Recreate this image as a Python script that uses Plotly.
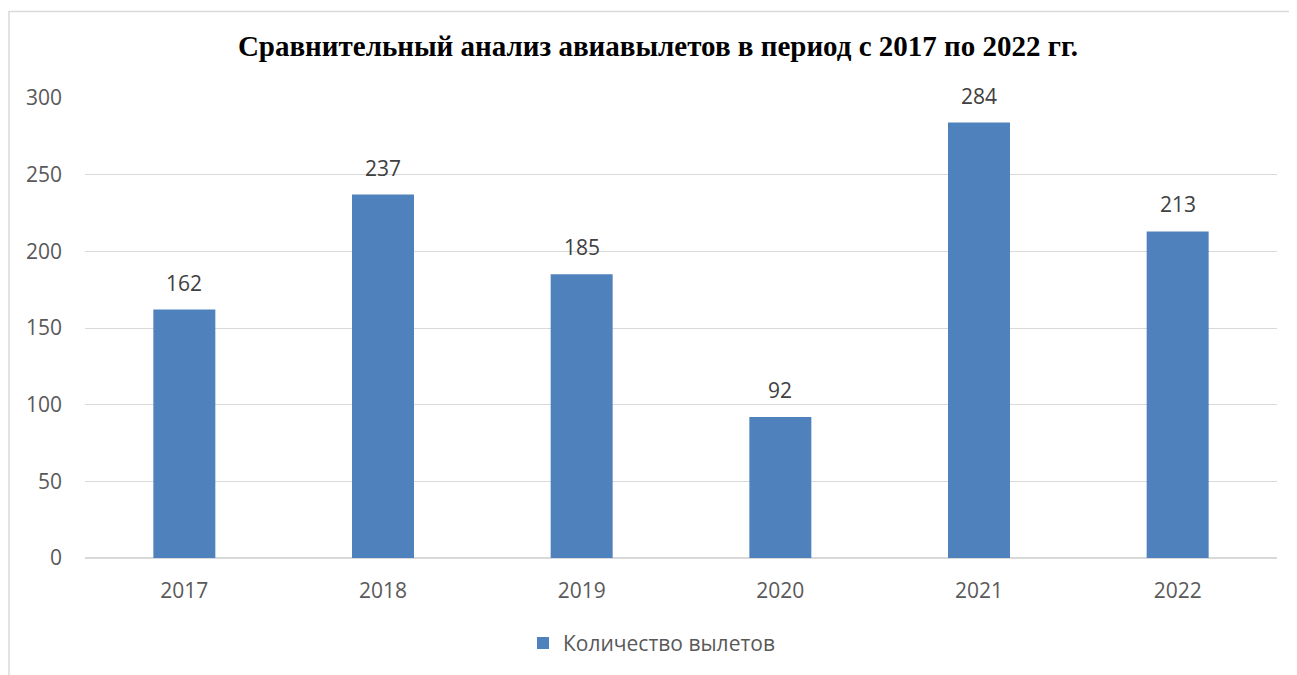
import plotly.graph_objects as go

years = ["2017", "2018", "2019", "2020", "2021", "2022"]
flights = [162, 237, 185, 92, 284, 213]
series_name = "Количество вылетов"
title = "Сравнительный анализ авиавылетов в период с 2017 по 2022 гг."
y_ticks = [0, 50, 100, 150, 200, 250, 300]

BAR = "#4F81BD"
GRID = "#D9D9D9"
TXT = "#595959"
FONT = "Open Sans, Lato, sans-serif"
FS = 21

fig = go.Figure()
fig.add_trace(go.Bar(
    x=years, y=flights, name=series_name,
    marker=dict(color=BAR, line=dict(width=0)),
    showlegend=True,
))

# category index positions for value labels
for i, v in enumerate(flights):
    fig.add_annotation(x=i, y=v, text=str(v), showarrow=False,
                       yanchor="middle", yshift=27,
                       font=dict(family=FONT, size=FS, color="#404040"))

# page is offset by 8px body margin
OFF = 8
W, H = 1297 - OFF, 675 - OFF
l, r, t, b = 85 - OFF, 20, 97.5 - OFF, 115.5
pw, ph = W - l - r, H - t - b

fig.add_shape(type="rect", xref="paper", yref="paper",
              x0=(9 - OFF - l) / pw, x1=(W + 5 - l) / pw,
              y0=(H - b - (H + 5)) / ph, y1=(H - b - (10.5 - OFF)) / ph,
              line=dict(color=GRID, width=1.5), fillcolor="rgba(0,0,0,0)", layer="below")

fig.update_layout(
    width=W, height=H,
    margin=dict(l=l, r=r, t=t, b=b, pad=0),
    paper_bgcolor="white", plot_bgcolor="white",
    bargap=0.688,
    title=dict(text="<b>" + title + "</b>", x=(658 - OFF) / W, xanchor="center",
               y=1 - (46 - OFF) / H, yanchor="middle",
               font=dict(family="Liberation Serif, Times New Roman, serif", size=29, color="black")),
    xaxis=dict(type="category", range=[-0.5, len(years) - 0.5], showgrid=False, showline=False, ticks="",
               tickfont=dict(family=FONT, size=FS, color=TXT), ticklabelstandoff=18),
    yaxis=dict(range=[0, 300], tickvals=y_ticks, showgrid=True, gridcolor=GRID, gridwidth=1.2,
               zeroline=True, zerolinecolor=GRID, zerolinewidth=1.5, showline=False, ticks="",
               tickfont=dict(family=FONT, size=FS, color=TXT), ticklabelstandoff=22),
    legend=dict(orientation="h", x=(523 - OFF - l) / pw, xanchor="left",
                y=-(644 - OFF - (H - b)) / ph, yanchor="middle",
                font=dict(family=FONT, size=FS, color=TXT), itemwidth=30),
)

fig.write_html("out.html")
